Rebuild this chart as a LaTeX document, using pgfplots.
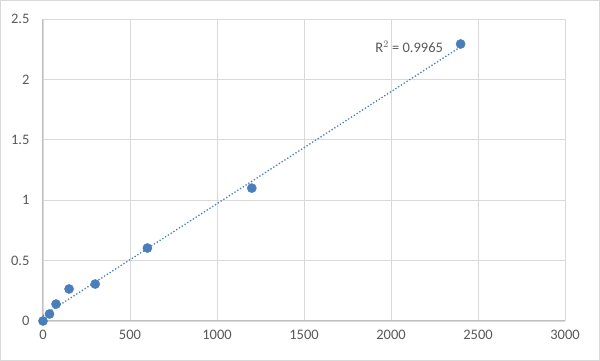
\documentclass[border=0pt]{standalone}
\usepackage{pgfplots}
\usepackage{pgfplotstable}
\pgfplotsset{compat=1.18}
\usepackage{fontspec}
\setmainfont{Carlito}
\definecolor{ptblue}{RGB}{74,126,187}
\definecolor{gridgray}{RGB}{217,217,217}
\definecolor{axgray}{RGB}{191,191,191}
\definecolor{txtgray}{RGB}{89,89,89}
\pgfplotstableread{
X Y
0 0
37.5 0.058
75 0.14
150 0.265
300 0.306
600 0.604
1200 1.10
2400 2.293
}\datatable
\begin{document}
\begin{tikzpicture}[x=1pt,y=1pt]
\fill[white] (-43,-40) rectangle (557,321);
\draw[gridgray,line width=1pt] (-42.5,-39.5) rectangle (556.5,320.5);
\begin{axis}[
  at={(0,0)}, anchor=south west,
  scale only axis, width=522pt, height=302pt,
  xmin=0, xmax=3000, ymin=0, ymax=2.5,
  xtick={0,500,...,3000}, ytick={0,0.5,...,2.5},
  yticklabels={0,0.5,1,1.5,2,2.5},
  axis line style={draw=none},
  major tick length=0pt,
  grid=major, major grid style={gridgray, line width=0.9pt},
  tick label style={font=\fontsize{14.5}{16}\selectfont, text=txtgray},
  /pgf/number format/assume math mode=true,
  /pgf/number format/1000 sep={},
  xticklabel style={yshift=-6pt},
  yticklabel style={xshift=-10pt},
  clip=false,
]
\draw[axgray,line width=1pt] (axis cs:0,0) -- (axis cs:3000,0);
\draw[axgray,line width=1pt] (axis cs:0,0) -- (axis cs:0,2.5);
\addplot[ptblue, line width=1.3pt, dotted, no marks] table[x=X, y={create col/linear regression={y=Y}}] {\datatable};
\addplot[only marks, mark=*, mark size=4.6pt, mark options={fill=ptblue, draw=ptblue}] table[x=X,y=Y] {\datatable};
\node[anchor=east, text=txtgray, font=\fontsize{14.5}{16}\selectfont, inner sep=0pt] at (axis cs:2300,2.27) {R$^2$ = 0.9965};
\end{axis}
\end{tikzpicture}
\end{document}
